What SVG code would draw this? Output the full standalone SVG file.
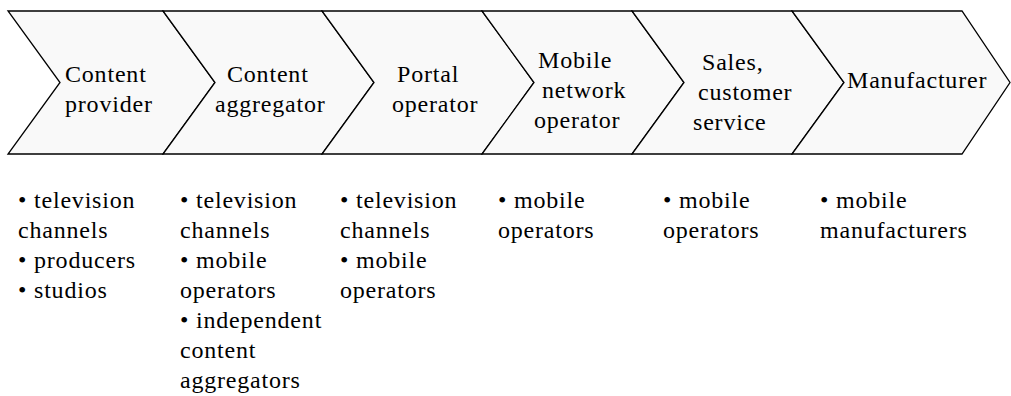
<svg xmlns="http://www.w3.org/2000/svg" width="1011" height="396" viewBox="0 0 1011 396">
  <style>
    .chev { fill: #f9f9f9; stroke: #000; stroke-width: 1.3; stroke-linejoin: miter; }
    .lbl { font-size: 24px; letter-spacing: 0.8px; fill: #000; }
  </style>
  <rect width="1011" height="396" fill="#fff"/>

  <g font-family="Liberation Serif, serif">
  <!-- value chain stages -->
  <g id="stage-content-provider">
    <polygon class="chev" points="8,11 163,11 215,82.5 163,154 8,154 60,82.5"/>
    <text class="lbl" x="65" y="82">Content</text>
    <text class="lbl" x="65" y="112">provider</text>
  </g>
  <g id="stage-content-aggregator">
    <polygon class="chev" points="163,11 322,11 374,82.5 322,154 163,154 215,82.5"/>
    <text class="lbl" x="227" y="82">Content</text>
    <text class="lbl" x="215" y="112">aggregator</text>
  </g>
  <g id="stage-portal-operator">
    <polygon class="chev" points="322,11 482,11 534,82.5 482,154 322,154 374,82.5"/>
    <text class="lbl" x="397" y="82">Portal</text>
    <text class="lbl" x="392" y="112">operator</text>
  </g>
  <g id="stage-mobile-network-operator">
    <polygon class="chev" points="482,11 632,11 684,82.5 632,154 482,154 534,82.5"/>
    <text class="lbl" x="538" y="68">Mobile</text>
    <text class="lbl" x="542" y="98">network</text>
    <text class="lbl" x="534" y="128">operator</text>
  </g>
  <g id="stage-sales">
    <polygon class="chev" points="632,11 792,11 844,82.5 792,154 632,154 684,82.5"/>
    <text class="lbl" x="702" y="70">Sales,</text>
    <text class="lbl" x="698" y="100">customer</text>
    <text class="lbl" x="693" y="130">service</text>
  </g>
  <g id="stage-manufacturer">
    <polygon class="chev" points="792,11 962,11 1010,82.5 962,154 792,154 844,82.5"/>
    <text class="lbl" x="847" y="88">Manufacturer</text>
  </g>

  <!-- players per stage -->
  <g id="players-content-provider">
    <text class="lbl" x="18" y="208">• television</text>
    <text class="lbl" x="18" y="238">channels</text>
    <text class="lbl" x="18" y="268">• producers</text>
    <text class="lbl" x="18" y="298">• studios</text>
  </g>
  <g id="players-content-aggregator">
    <text class="lbl" x="180" y="208">• television</text>
    <text class="lbl" x="180" y="238">channels</text>
    <text class="lbl" x="180" y="268">• mobile</text>
    <text class="lbl" x="180" y="298">operators</text>
    <text class="lbl" x="180" y="328">• independent</text>
    <text class="lbl" x="180" y="358">content</text>
    <text class="lbl" x="180" y="388">aggregators</text>
  </g>
  <g id="players-portal-operator">
    <text class="lbl" x="340" y="208">• television</text>
    <text class="lbl" x="340" y="238">channels</text>
    <text class="lbl" x="340" y="268">• mobile</text>
    <text class="lbl" x="340" y="298">operators</text>
  </g>
  <g id="players-mobile-network-operator">
    <text class="lbl" x="498" y="208">• mobile</text>
    <text class="lbl" x="498" y="238">operators</text>
  </g>
  <g id="players-sales">
    <text class="lbl" x="663" y="208">• mobile</text>
    <text class="lbl" x="663" y="238">operators</text>
  </g>
  <g id="players-manufacturer">
    <text class="lbl" x="820" y="208">• mobile</text>
    <text class="lbl" x="820" y="238">manufacturers</text>
  </g>
  </g>

  <!-- stages abut directly; no separate connectors -->
  <g id="connectors"/>
</svg>
